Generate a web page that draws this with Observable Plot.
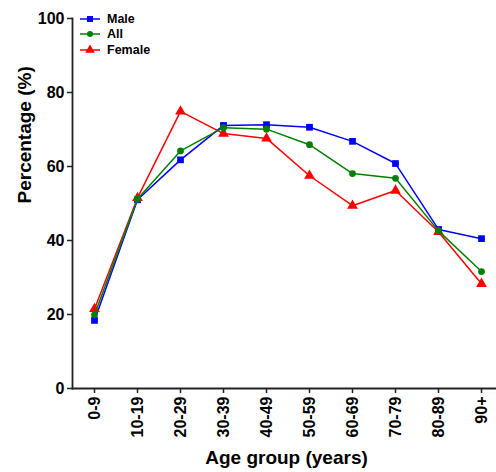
<!DOCTYPE html>
<html><head><meta charset="utf-8">
<script src="https://cdn.jsdelivr.net/npm/d3@7"></script>
<script src="https://cdn.jsdelivr.net/npm/@observablehq/plot@0.6"></script>
<style>
body{margin:0;background:#fff;font-family:"Liberation Sans",Arial,sans-serif;}
#wrap{position:relative;width:496px;height:472px;}
#legend{position:absolute;left:80px;top:11px;font-weight:bold;font-size:12.5px;color:#000;line-height:1}
.item{display:flex;align-items:center;height:15.5px}
.item svg{margin-right:7px}
</style></head><body><div id="wrap"><div id="legend"></div></div>
<script>
const ageGroups = ["0-9","10-19","20-29","30-39","40-49","50-59","60-69","70-79","80-89","90+"];
const male   = [18.4, 51.0, 61.8, 71.1, 71.3, 70.6, 66.8, 60.8, 43.0, 40.5];
const all    = [19.9, 51.2, 64.2, 70.5, 70.1, 65.9, 58.1, 56.8, 42.6, 31.6];
const female = [21.5, 51.5, 74.9, 68.9, 67.6, 57.5, 49.4, 53.5, 42.3, 28.3];
const seriesNames = ["Male","All","Female"];
const seriesColors = ["#0000ff","#008000","#ff0000"];
const seriesSymbols = ["square","circle","triangle"];
const yTicks = [0,20,40,60,80,100];

const values = {Male: male, All: all, Female: female};
const data = seriesNames.flatMap(s => ageGroups.map((a, j) => ({age: a, value: values[s][j], series: s})));
const drawOrder = ["Male","Female","All"];
const symR = {Male: 3.8, All: 3.4, Female: 4.0};

const chart = Plot.plot({
  width: 496, height: 472,
  marginLeft: 72, marginRight: 0, marginTop: 18, marginBottom: 84,
  style: {fontFamily: "'Liberation Sans', Arial, sans-serif", color: "#000", background: "transparent", overflow: "visible"},
  x: {type: "point", domain: ageGroups, range: [93, 481], padding: 0},
  y: {domain: [0, 100]},
  color: {domain: seriesNames, range: seriesColors},
  symbol: {domain: seriesNames, range: seriesSymbols},
  marks: [
    Plot.axisY(yTicks, {tickSize: 5, tickPadding: 3, fontSize: 16, fontWeight: "bold", label: null, strokeWidth: 1.5, stroke: "#222"}),
    Plot.axisX({tickSize: 5, tickPadding: 3, tickRotate: -90, fontSize: 16, fontWeight: "bold", label: null, strokeWidth: 1.5, stroke: "#222"}),
    Plot.frame({anchor: "left", stroke: "#222", strokeWidth: 1.8}),
    Plot.frame({anchor: "bottom", stroke: "#222", strokeWidth: 1.8}),
    Plot.text(["Percentage (%)"], {frameAnchor: "left", dx: -48, rotate: -90, fontSize: 19, fontWeight: "bold", fill: "#000"}),
    Plot.text(["Age group (years)"], {frameAnchor: "bottom", dy: 75, dx: 2, fontSize: 19, fontWeight: "bold", fill: "#000"}),
    ...drawOrder.flatMap(s => {
      const d = data.filter(e => e.series === s);
      return [
        Plot.line(d, {x: "age", y: "value", stroke: "series", strokeWidth: 1.5}),
        Plot.dot(d, {x: "age", y: "value", fill: "series", symbol: "series", r: symR[s], stroke: "none"})
      ];
    })
  ]
});
document.getElementById("wrap").prepend(chart);

const legend = document.getElementById("legend");
const legendSym = {square: d3.symbolSquare, circle: d3.symbolCircle, triangle: d3.symbolTriangle};
seriesNames.forEach((s, i) => {
  const item = document.createElement("div");
  item.className = "item";
  const p = d3.symbol(legendSym[seriesSymbols[i]], Math.PI * symR[s] * symR[s] * 0.8)();
  item.innerHTML = `<svg width="20" height="12" viewBox="-10 -6 20 12"><line x1="-10" x2="10" y1="0" y2="0" stroke="${seriesColors[i]}" stroke-width="1.5"/><path d="${p}" fill="${seriesColors[i]}"/></svg><span>${s}</span>`;
  legend.appendChild(item);
});
</script>
</body></html>
